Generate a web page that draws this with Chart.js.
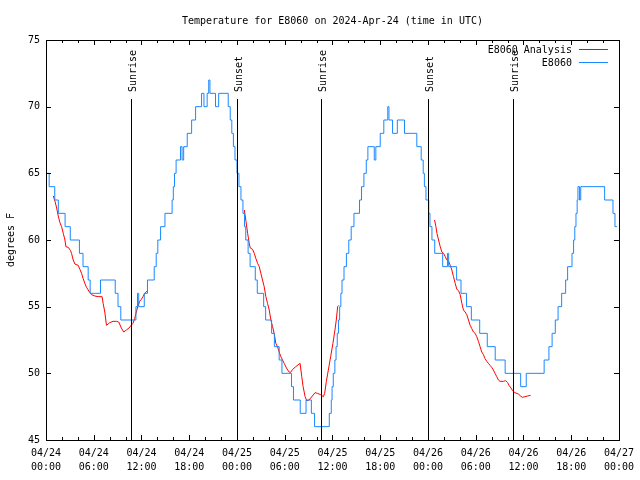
<!DOCTYPE html>
<html><head><meta charset="utf-8">
<script src="https://cdn.jsdelivr.net/npm/chart.js@4"></script>
<style>html,body{margin:0;padding:0;background:#fff;}canvas{display:block;}</style>
</head><body>
<canvas id="c" width="640" height="480"></canvas>
<script>
const titleText = 'Temperature for E8060 on 2024-Apr-24 (time in UTC)';
const yAxisLabel = 'degrees F';
const xTickLabels = [
  ['04/24','00:00'],['04/24','06:00'],['04/24','12:00'],['04/24','18:00'],
  ['04/25','00:00'],['04/25','06:00'],['04/25','12:00'],['04/25','18:00'],
  ['04/26','00:00'],['04/26','06:00'],['04/26','12:00'],['04/26','18:00'],
  ['04/27','00:00']
];
const yTicks = [45, 50, 55, 60, 65, 70, 75];
const eventHours = [10.62, 23.95, 34.6, 48.0, 58.63];
const eventLabels = ['Sunrise', 'Sunset', 'Sunrise', 'Sunset', 'Sunrise'];

const observedName = 'E8060';
const observedHours = [0.0,0.4,1.1,1.55,2.4,3.05,4.2,4.65,5.3,5.55,6.85,8.7,9.05,9.4,11.3,11.5,11.65,12.35,12.75,13.6,13.85,14.05,14.4,14.95,15.85,16.0,16.15,16.35,16.9,17.1,17.3,17.75,18.3,18.8,19.55,19.85,20.25,20.45,20.6,21.3,21.7,22.9,23.15,23.35,23.55,23.75,24.0,24.25,24.5,24.75,24.95,25.1,25.4,25.65,26.3,26.55,27.35,27.6,28.35,28.7,29.3,29.65,30.85,31.1,31.95,32.68,33.35,33.75,35.6,35.85,35.95,36.1,36.3,36.45,36.6,36.75,36.9,37.05,37.2,37.45,37.75,38.05,38.35,38.7,39.4,39.65,39.95,40.25,40.45,41.25,41.45,42.0,42.45,42.95,43.1,43.55,44.15,45.05,46.6,47.15,47.4,47.55,47.75,48.1,48.25,48.5,48.85,49.85,50.45,50.6,51.6,52.15,52.85,53.45,54.5,55.45,56.45,57.7,59.65,60.35,62.6,63.2,63.6,64.0,64.35,64.8,65.3,65.55,66.1,66.3,66.45,66.6,66.75,66.85,67.05,67.2,70.2,71.25,71.5,71.75];
const observedTemps = [65,64,63,62,61,60,59,58,57,56,57,56,55,54,55,56,55,56,57,58,59,60,61,62,63,64,65,66,67,66,67,68,69,70,71,70,71,72,71,70,71,70,69,68,67,66,65,64,63,62,61,60,59,58,57,56,55,54,53,52,51,50,49,48,47,48,47,46,47,48,49,50,51,52,53,54,55,56,57,58,59,60,61,62,63,64,65,66,67,66,67,68,69,70,69,68,69,68,67,66,65,64,63,62,61,60,59,58,59,58,57,56,55,54,53,52,51,50,49,50,51,52,53,54,55,56,57,58,59,60,61,62,63,64,63,64,63,62,61,61];

const analysisName = 'E8060 Analysis';
const analysisHours = [0.92,1.13,1.34,1.54,1.75,1.96,2.17,2.38,2.5,2.8,3.09,3.21,3.42,3.63,4.05,4.26,4.47,4.67,4.88,5.09,5.3,5.51,5.72,6.14,6.55,7.05,7.18,7.39,7.6,7.8,8.01,8.43,8.85,9.14,9.47,9.77,10.1,10.43,10.64,10.93,11.14,11.35,11.56,11.77,11.98,12.19,12.4,12.6,12.81,
  18.0,
  24.92,25.13,25.34,25.54,25.67,25.96,26.17,26.38,26.59,26.8,27.0,27.21,27.42,27.63,27.84,28.05,28.26,28.47,28.67,28.88,29.09,29.3,29.51,29.72,29.93,30.22,30.55,30.7,31.0,31.39,31.93,32.14,32.31,32.56,32.76,33.06,33.47,33.81,34.1,34.52,34.85,35.02,35.23,35.48,35.77,36.06,36.31,36.48,36.65,36.81,
  42.0,
  48.83,49.0,49.13,49.33,49.54,49.75,49.96,50.17,50.38,50.59,50.8,51.0,51.21,51.42,51.63,51.84,52.05,52.26,52.46,52.67,52.88,53.09,53.3,53.51,53.72,53.93,54.13,54.34,54.55,54.76,54.97,55.18,55.39,55.59,55.8,56.01,56.22,56.43,56.64,56.85,57.06,57.47,57.77,58.02,58.18,58.43,58.64,58.93,59.35,59.64,59.89,60.19,60.52,60.9];
const analysisTemps = [63.3,62.9,62.4,61.8,61.3,61.0,60.5,60.0,59.5,59.45,59.2,59.0,58.5,58.2,58.1,57.8,57.5,57.1,56.75,56.45,56.25,56.05,55.9,55.8,55.75,55.75,55.25,54.6,53.6,53.7,53.8,53.9,53.9,53.85,53.4,53.1,53.25,53.4,53.55,53.75,54.1,54.6,55.05,55.4,55.55,55.75,56.0,56.1,56.25,
  null,
  62.25,61.4,60.5,59.75,59.4,59.3,59.0,58.6,58.25,58.0,57.5,57.0,56.5,55.75,55.25,54.75,54.0,53.5,53.0,52.25,52.0,51.6,51.25,51.0,50.75,50.4,50.1,50.05,50.3,50.5,50.75,49.75,49.0,48.25,47.95,48.0,48.3,48.55,48.5,48.4,48.25,48.5,49.4,50.25,51.25,52.25,53.25,54.0,55.0,55.1,
  null,
  61.5,61.0,60.5,60.0,59.5,59.1,59.0,58.75,58.5,58.4,58.1,57.75,57.25,56.75,56.3,56.2,55.9,55.25,54.75,54.6,54.4,54.0,53.6,53.35,53.1,53.0,52.75,52.4,52.0,51.6,51.4,51.1,50.9,50.75,50.6,50.45,50.25,50.0,49.75,49.5,49.4,49.4,49.45,49.3,49.1,48.9,48.7,48.55,48.45,48.3,48.2,48.25,48.3,48.35];

const BLUE = '#1a88ff';
const RED = '#ff0000';
const FONT_FAMILY = '"DejaVu Sans Mono", "Liberation Mono", monospace';
const FONT = '10px ' + FONT_FAMILY;

const observedPoints = observedHours.map((h, i) => ({x: h, y: observedTemps[i]}));
const analysisPoints = analysisHours.map((h, i) => ({x: h, y: analysisTemps[i]}));

const decor = {
  id: 'decor',
  afterDraw(chart) {
    const {ctx, chartArea: a, scales: {x, y}} = chart;
    ctx.save();
    ctx.strokeStyle = '#000';
    ctx.lineWidth = 1;
    // tick marks (inward, mirrored)
    ctx.beginPath();
    for (let h = 0; h <= 72; h += 2) {
      const px = Math.round(x.getPixelForValue(h)) + 0.5;
      const len = h % 6 === 0 ? 5 : 3;
      ctx.moveTo(px, a.bottom); ctx.lineTo(px, a.bottom - len);
      ctx.moveTo(px, a.top); ctx.lineTo(px, a.top + len);
    }
    for (const v of yTicks) {
      const py = Math.round(y.getPixelForValue(v)) + 0.5;
      ctx.moveTo(a.left, py); ctx.lineTo(a.left + 5, py);
      ctx.moveTo(a.right, py); ctx.lineTo(a.right - 5, py);
    }
    ctx.stroke();
    // frame
    ctx.strokeRect(Math.round(a.left) + 0.5, Math.round(a.top) + 0.5,
                   Math.round(a.right - a.left), Math.round(a.bottom - a.top));
    // sunrise / sunset markers
    ctx.font = FONT;
    ctx.fillStyle = '#000';
    eventHours.forEach((h, i) => {
      const px = Math.round(x.getPixelForValue(h)) + 0.5;
      ctx.beginPath();
      ctx.moveTo(px, a.top + 59);
      ctx.lineTo(px, a.bottom);
      ctx.stroke();
      ctx.save();
      ctx.translate(px + 1.5, a.top + 52);
      ctx.rotate(-Math.PI / 2);
      ctx.textAlign = 'left';
      ctx.textBaseline = 'middle';
      ctx.fillText(eventLabels[i], 0, 0);
      ctx.restore();
    });
    // legend
    const ds = chart.data.datasets;
    const order = [1, 0];
    ctx.textAlign = 'right';
    ctx.textBaseline = 'middle';
    order.forEach((di, k) => {
      const yy = a.top + 10 + k * 13;
      ctx.fillStyle = '#000';
      ctx.fillText(ds[di].label, a.right - 47, yy);
      ctx.strokeStyle = ds[di].borderColor;
      ctx.beginPath();
      ctx.moveTo(a.right - 40, Math.round(yy) - 0.5);
      ctx.lineTo(a.right - 11, Math.round(yy) - 0.5);
      ctx.stroke();
    });
    // title
    ctx.fillStyle = '#000';
    ctx.textAlign = 'center';
    ctx.textBaseline = 'alphabetic';
    ctx.fillText(titleText, (a.left + a.right) / 2, 24);
    // y-axis label
    ctx.save();
    ctx.translate(11, (a.top + a.bottom) / 2);
    ctx.rotate(-Math.PI / 2);
    ctx.textAlign = 'center';
    ctx.textBaseline = 'middle';
    ctx.fillText(yAxisLabel, 0, 0);
    ctx.restore();
    ctx.restore();
  }
};

new Chart(document.getElementById('c'), {
  type: 'line',
  data: {
    datasets: [
      {label: observedName, data: observedPoints, borderColor: BLUE, backgroundColor: BLUE,
       borderWidth: 1, pointRadius: 0, stepped: 'before', fill: false},
      {label: analysisName, data: analysisPoints, borderColor: RED, backgroundColor: RED,
       borderWidth: 1, pointRadius: 0, tension: 0, spanGaps: false, fill: false}
    ]
  },
  options: {
    responsive: false,
    animation: false,
    devicePixelRatio: 1,
    layout: {padding: {top: 40, right: 19, left: 0, bottom: 0}},
    plugins: {legend: {display: false}, title: {display: false}, tooltip: {enabled: false}},
    scales: {
      x: {
        type: 'linear', min: 0, max: 72,
        afterBuildTicks: s => { s.ticks = xTickLabels.map((_, i) => ({value: i * 6})); },
        ticks: {
          callback: v => xTickLabels[Math.round(v / 6)],
          font: {family: FONT_FAMILY, size: 10, lineHeight: 1.4},
          color: '#000', padding: 6, maxRotation: 0, autoSkip: false
        },
        grid: {display: false, drawTicks: false},
        border: {display: false},
        afterFit: s => { s.height = 40; }
      },
      y: {
        min: 45, max: 75,
        afterBuildTicks: s => { s.ticks = yTicks.map(v => ({value: v})); },
        ticks: {font: {family: FONT_FAMILY, size: 10}, color: '#000', padding: 6},
        grid: {display: false, drawTicks: false},
        border: {display: false},
        afterFit: s => { s.width = 46; }
      }
    }
  },
  plugins: [decor]
});
</script>
</body></html>
